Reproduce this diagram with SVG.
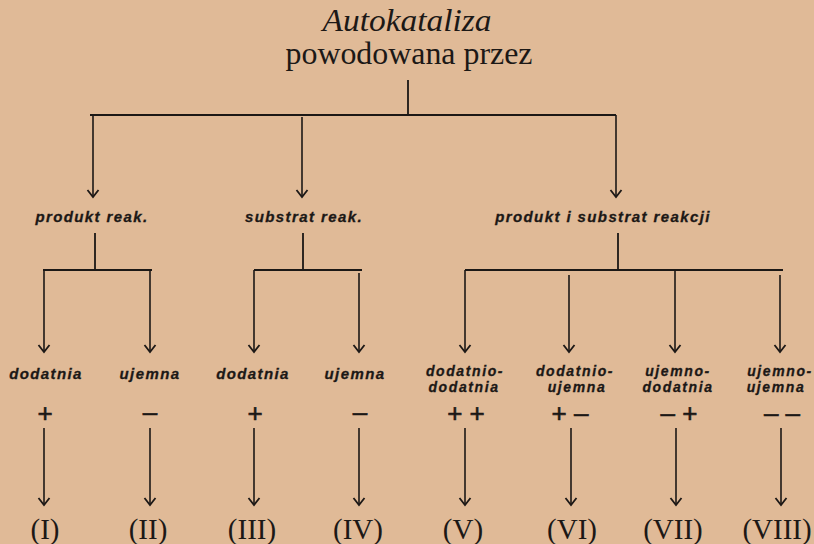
<svg xmlns="http://www.w3.org/2000/svg" width="814" height="544" viewBox="0 0 814 544">
  <defs>
    <marker id="chev" viewBox="-9 -7 11 14" markerWidth="11" markerHeight="14" refX="0" refY="0" orient="auto" markerUnits="userSpaceOnUse">
      <path d="M-7,-5.5 L0,0 L-7,5.5" fill="none" stroke="#1c1816" stroke-width="1.8"/>
    </marker>
    <style>
      .bg { fill: #e0ba97; }
      .ln { stroke: #1c1816; stroke-width: 1.8; fill: none; }
      .ar { stroke: #1c1816; stroke-width: 1.6; fill: none; marker-end: url(#chev); }
      .head { font-family: "Liberation Serif", "Times New Roman", serif; fill: #1c1816; text-anchor: middle; }
      .lab { font-family: "Liberation Sans", Arial, sans-serif; font-weight: bold; font-style: italic; font-size: 15px; letter-spacing: 1.4px; fill: #1c1816; stroke: #1c1816; stroke-width: 0.3; text-anchor: middle; }
      .lab2 { font-size: 14px; letter-spacing: 1.6px; }
      .sign { font-family: "Liberation Sans", Arial, sans-serif; font-size: 26px; fill: #1c1816; stroke: #1c1816; stroke-width: 0.6; text-anchor: middle; }
      .num { font-family: "Liberation Serif", "Times New Roman", serif; font-size: 29px; fill: #1c1816; text-anchor: middle; }
    </style>
  </defs>

  <rect class="bg" x="0" y="0" width="814" height="544"/>

  <!-- heading -->
  <g id="title">
    <text class="head" x="407" y="31" font-size="32" font-style="italic" textLength="169" lengthAdjust="spacingAndGlyphs">Autokataliza</text>
    <text class="head" x="409" y="64" font-size="32" textLength="247" lengthAdjust="spacingAndGlyphs">powodowana przez</text>
  </g>

  <!-- first level -->
  <g id="n-produkt"><text class="lab" x="92" y="222">produkt reak.</text></g>
  <g id="n-substrat"><text class="lab" x="304" y="222">substrat reak.</text></g>
  <g id="n-oba"><text class="lab" x="603" y="222">produkt i substrat reakcji</text></g>

  <!-- second level -->
  <g id="n-1"><text class="lab" x="46" y="379">dodatnia</text><text class="sign" x="45" y="422">+</text></g>
  <g id="n-2"><text class="lab" x="150" y="379">ujemna</text><text class="sign" x="150" y="421">–</text></g>
  <g id="n-3"><text class="lab" x="253" y="379">dodatnia</text><text class="sign" x="255" y="422">+</text></g>
  <g id="n-4"><text class="lab" x="355" y="379">ujemna</text><text class="sign" x="360" y="421">–</text></g>
  <g id="n-5"><text class="lab lab2" x="465" y="376">dodatnio-</text><text class="lab lab2" x="464" y="392">dodatnia</text><text class="sign" x="466" y="422">+ +</text></g>
  <g id="n-6"><text class="lab lab2" x="575" y="376">dodatnio-</text><text class="lab lab2" x="577" y="392">ujemna</text><text class="sign" x="570" y="422">+ –</text></g>
  <g id="n-7"><text class="lab lab2" x="678" y="376">ujemno-</text><text class="lab lab2" x="678" y="392">dodatnia</text><text class="sign" x="679" y="422">– +</text></g>
  <g id="n-8"><text class="lab lab2" x="780" y="376">ujemno-</text><text class="lab lab2" x="776" y="392">ujemna</text><text class="sign" x="782" y="422">– –</text></g>

  <!-- results -->
  <g id="r-1"><text class="num" x="45" y="539">(I)</text></g>
  <g id="r-2"><text class="num" x="148" y="539">(II)</text></g>
  <g id="r-3"><text class="num" x="252" y="539">(III)</text></g>
  <g id="r-4"><text class="num" x="358" y="539">(IV)</text></g>
  <g id="r-5"><text class="num" x="463" y="539">(V)</text></g>
  <g id="r-6"><text class="num" x="572" y="539">(VI)</text></g>
  <g id="r-7"><text class="num" x="673" y="539">(VII)</text></g>
  <g id="r-8"><text class="num" x="777" y="539">(VIII)</text></g>

  <!-- connectors -->
  <g id="connectors">
    <path class="ln" d="M408,80 V115 M90,115 H616"/>
    <path class="ar" d="M93,115 V197"/>
    <path class="ar" d="M302,117 V197"/>
    <path class="ar" d="M616,115 V197"/>

    <path class="ln" d="M95,233 V270 M43,270 H152"/>
    <path class="ar" d="M44,270 V352"/>
    <path class="ar" d="M150,270 V352"/>

    <path class="ln" d="M303,233 V270 M254,270 H362"/>
    <path class="ar" d="M254,270 V352"/>
    <path class="ar" d="M359,273 V352"/>

    <path class="ln" d="M618,233 V270 M465,270 H783"/>
    <path class="ar" d="M465,270 V352"/>
    <path class="ar" d="M569,275 V352"/>
    <path class="ar" d="M675,270 V352"/>
    <path class="ar" d="M780,275 V352"/>

    <path class="ar" d="M44,428 V505"/>
    <path class="ar" d="M150,428 V505"/>
    <path class="ar" d="M254,428 V505"/>
    <path class="ar" d="M359,428 V505"/>
    <path class="ar" d="M465,428 V505"/>
    <path class="ar" d="M571,428 V505"/>
    <path class="ar" d="M676,428 V505"/>
    <path class="ar" d="M781,428 V505"/>
  </g>
</svg>
